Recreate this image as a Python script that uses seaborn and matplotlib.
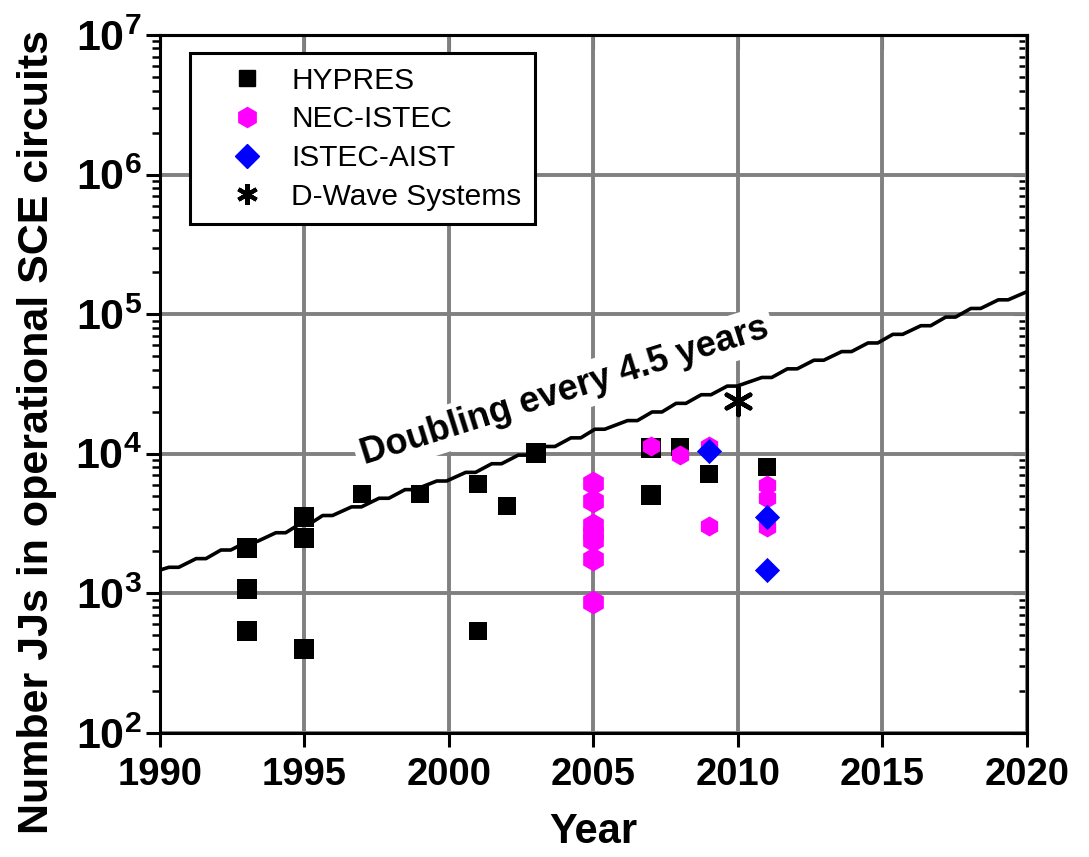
import numpy as np
import pandas as pd
import matplotlib
matplotlib.use("Agg")
import matplotlib.pyplot as plt
import seaborn as sns
from matplotlib.lines import Line2D
from matplotlib.ticker import LogLocator, MultipleLocator, FuncFormatter, NullFormatter, NullLocator

sns.set_theme(style="white")
plt.rcParams["font.family"] = ["Liberation Sans", "DejaVu Sans"]
plt.rcParams["mathtext.fontset"] = "custom"
plt.rcParams["mathtext.rm"] = "Liberation Sans:bold"
plt.rcParams["mathtext.bf"] = "Liberation Sans:bold"
for k in ["text.color", "axes.labelcolor", "xtick.color", "ytick.color"]:
    plt.rcParams[k] = "black"

# ---------------- data ----------------
hypres_big_years = [1993, 1993, 1993, 1995, 1995, 1995, 2003, 2007, 2007]
hypres_big_jj = [2100, 1070, 540, 3500, 2500, 400, 10100, 11000, 5100]
hypres_small_years = [1997, 1999, 2001, 2001, 2002, 2008, 2009, 2011]
hypres_small_jj = [5150, 5150, 6100, 540, 4200, 11200, 7200, 8100]

nec_big_years = [2005, 2005, 2005, 2005, 2005, 2005, 2005]
nec_big_jj = [6200, 4600, 3100, 2700, 2400, 1760, 870]
nec_small_years = [2007, 2008, 2009, 2009, 2011, 2011, 2011]
nec_small_jj = [11400, 9800, 11400, 3050, 6000, 4800, 3000]

aist_years = [2009, 2011, 2011]
aist_jj = [10500, 3500, 1470]

dwave_years = [2010]
dwave_jj = [24000]

# "Doubling every 4.5 years" trend line as drawn (stair-stepped polyline)
trend_start = (1990.0, 1470)
trend_end = (2020.0, 144900)
trend_step_years = [1990.48, 1991.42, 1992.28, 1993.2, 1994.18, 1995.0, 1995.8,
                    1996.8, 1997.75, 1998.65, 1999.75, 2000.75, 2001.65, 2002.57,
                    2003.5, 2004.39, 2005.22, 2006.35, 2007.2, 2008.03, 2008.9,
                    2009.8, 2011.0, 2011.88, 2012.8, 2013.76, 2014.67, 2015.53,
                    2016.5, 2017.36, 2018.23, 2019.18]
trend_step_jj = [1538, 1774, 2045, 2358, 2719, 3133, 3613, 4165, 4802, 5537,
                 6383, 7360, 8486, 9781, 11279, 13002, 14993, 17286, 19927,
                 22977, 26485, 30536, 35210, 40590, 46795, 53951, 62202, 71712,
                 82678, 95330, 109900, 126700]

x_ticks = [1990, 1995, 2000, 2005, 2010, 2015, 2020]
series_names = ["HYPRES", "NEC-ISTEC", "ISTEC-AIST", "D-Wave Systems"]
series_colors = ["black", "#ff00ff", "#0000ff", "black"]

# build trend polyline
tx = [trend_start[0]]
ty = [trend_start[1]]
for yr, v in zip(trend_step_years, trend_step_jj):
    tx += [yr - 0.17, yr + 0.17]
    ty += [v, v]
tx.append(trend_end[0])
ty.append(trend_end[1])
trend_df = pd.DataFrame({"year": tx, "jj": ty})

# ---------------- figure ----------------
fig = plt.figure(figsize=(10.89, 8.57), dpi=100)
ax = fig.add_axes([0.1469, 0.1447, 0.7961, 0.8145])

ax.set_yscale("log")
ax.set_xlim(1990, 2020)
ax.set_ylim(1e2, 1e7)

ax.grid(True, which="major", color="#808080", linewidth=2.8)
ax.set_axisbelow(True)

sns.lineplot(data=trend_df, x="year", y="jj", ax=ax, color="black",
             linewidth=2.6, sort=False, estimator=None, zorder=3)

def scat(xs, ys, marker, s, color, zorder, lw=0, ec=None):
    df = pd.DataFrame({"year": xs, "jj": ys})
    sns.scatterplot(data=df, x="year", y="jj", ax=ax, marker=marker, s=s,
                    color=color, edgecolor=ec if ec else color,
                    linewidth=lw, zorder=zorder, legend=False)

scat(hypres_big_years, hypres_big_jj, "s", 225, series_colors[0], 4)
scat(hypres_small_years, hypres_small_jj, "s", 160, series_colors[0], 4)
scat(nec_big_years, nec_big_jj, "h", 296, series_colors[1], 5)
scat(nec_small_years, nec_small_jj, "h", 207, series_colors[1], 5)
scat(aist_years, aist_jj, "D", 165, series_colors[2], 6)
scat(dwave_years, dwave_jj, (6, 2, 0), 380, series_colors[3], 7, lw=3.2, ec="black")

ax.text(2004.0, 28000, "Doubling every 4.5 years", fontsize=26, fontweight="bold",
        rotation=17.5, rotation_mode="anchor", ha="center", va="center",
        bbox=dict(facecolor="white", edgecolor="none", pad=4), zorder=2.5)

# axes styling
for sp in ax.spines.values():
    sp.set_linewidth(2.2)
    sp.set_color("black")
    sp.set_visible(True)

ax.xaxis.set_minor_locator(NullLocator())
ax.yaxis.set_major_locator(LogLocator(base=10, numticks=10))
ax.yaxis.set_minor_locator(LogLocator(base=10, subs=np.arange(2, 10), numticks=20))
ax.yaxis.set_minor_formatter(NullFormatter())
ax.yaxis.set_major_formatter(FuncFormatter(lambda v, p: r"$\mathbf{10^{%d}}$" % round(np.log10(v))))

ax.tick_params(axis="both", which="major", width=2.2, length=10,
               color="black", direction="out", bottom=True, left=True)
ax.tick_params(axis="y", which="major", labelsize=31, pad=3)
ax.tick_params(axis="both", which="minor", width=1.8, length=6, color="black",
               direction="out", bottom=True, left=True)

# mirrored inward ticks on top/right
axr = ax.secondary_yaxis("right")
axr.yaxis.set_major_locator(LogLocator(base=10, numticks=10))
axr.yaxis.set_minor_locator(LogLocator(base=10, subs=np.arange(2, 10), numticks=20))
axr.tick_params(which="major", direction="in", length=10, width=2.2, labelright=False)
axr.tick_params(which="minor", direction="in", length=6, width=1.8, labelright=False)
axr.spines["right"].set_linewidth(2.2)
axt = ax.secondary_xaxis("top")
axt.xaxis.set_major_locator(MultipleLocator(5))
axt.xaxis.set_minor_locator(NullLocator())
axt.tick_params(which="major", direction="in", length=10, width=2.2, labeltop=False)
axt.spines["top"].set_linewidth(2.2)

ax.set_xticks(x_ticks)
ax.set_xticklabels([str(t) for t in x_ticks], fontweight="bold", fontsize=27.5)
ax.tick_params(axis="x", pad=7)

ax.set_xlabel("Year", fontsize=30, fontweight="bold", labelpad=14)
ax.set_ylabel("Number JJs in operational SCE circuits", fontsize=31,
              fontweight="bold")
ax.yaxis.set_label_coords(-0.119, 0.431)

# legend
handles = [
    Line2D([], [], linestyle="none", marker="s", markersize=12, color=series_colors[0]),
    Line2D([], [], linestyle="none", marker="h", markersize=14.4, color=series_colors[1]),
    Line2D([], [], linestyle="none", marker="D", markersize=12.5, color=series_colors[2]),
    Line2D([], [], linestyle="none", marker=(6, 2, 0), markersize=15,
           markeredgewidth=3.0, color=series_colors[3]),
]
leg = ax.legend(handles, series_names, loc="upper left",
                bbox_to_anchor=(0.0346, 0.974), borderaxespad=0, fontsize=21.5,
                frameon=True, fancybox=False, framealpha=1, edgecolor="black",
                borderpad=0.45, handlelength=2.9, handletextpad=0.05,
                labelspacing=0.36)
leg.get_frame().set_linewidth(2.2)
leg.set_zorder(10)

fig.savefig("out.png", dpi=100)
